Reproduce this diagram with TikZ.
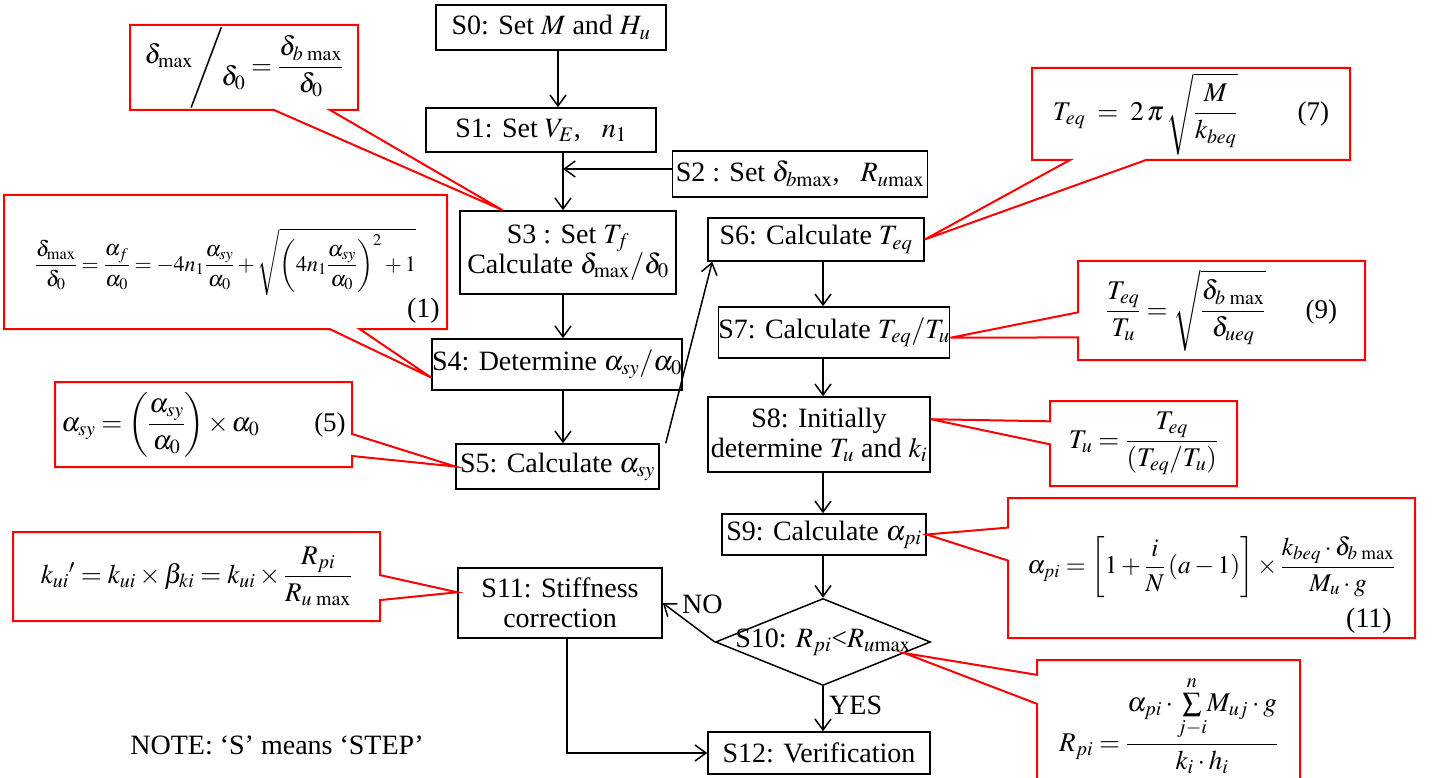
\documentclass[tikz,border=0pt]{standalone}
\usepackage{amsmath,amssymb}
\usepackage{mathptmx}
\usepackage{fontspec}
\setmainfont{Liberation Serif}
\usepackage{tikz}
\usetikzlibrary{arrows.meta,shapes.geometric,shapes.callouts,calc}

\tikzset{
  stepbox/.style={draw, line width=1.5pt, fill=white, align=center, inner sep=0pt, font=\fontsize{28}{30}\selectfont},
  decbox/.style={diamond, draw, line width=1.5pt, fill=white, inner sep=0pt, font=\fontsize{28}{30}\selectfont},
  eqbox/.style={rectangle callout, draw=red, line width=2pt, fill=white, inner sep=0pt, font=\fontsize{27}{30}\selectfont},
  eqno/.style={inner sep=0pt, font=\fontsize{28}{30}\selectfont},
  flow/.style={line width=1.5pt, -{Straight Barb[length=11pt,width=16pt]}},
  tag/.style={inner sep=0pt, font=\fontsize{28}{30}\selectfont},
}

\begin{document}
\begin{tikzpicture}[x=1pt,y=1pt,yscale=-1,xscale=1]
\useasboundingbox (0,0) rectangle (1433,778);

%Shape: Rectangle -- left column
\node[stepbox, minimum width=230, minimum height=45] (s0) at (551,27.5) {S0: Set $M$ and $H_u$};
\node[stepbox, minimum width=230, minimum height=44] (s1) at (541,130) {S1: Set $V_E$,~~~$n_1$};
\node[stepbox, minimum width=255, minimum height=46] (s2) at (800,174) {S2 : Set $\delta_{b\mathrm{max}}$,~~~$R_{u\mathrm{max}}$};
\node[stepbox, minimum width=216, minimum height=83] (s3) at (568,252.5) {S3 : Set $T_f$\\Calculate $\delta_{\mathrm{max}}/\delta_0$};
\node[stepbox, minimum width=248, minimum height=51] (s4) at (557,364.5) {S4: Determine $\alpha_{sy}/\alpha_0$};
\node[stepbox, minimum width=203, minimum height=45] (s5) at (557.5,466.5) {S5: Calculate $\alpha_{sy}$};
\node[stepbox, minimum width=204, minimum height=70] (s11) at (560,603) {S11: Stiffness\\correction};

%Shape: Rectangle -- right column
\node[stepbox, minimum width=216, minimum height=43] (s6) at (816,239.5) {S6: Calculate $T_{eq}$};
\node[stepbox, minimum width=226, minimum height=51] (s7) at (834,332.5) {S7: Calculate $T_{eq}/T_u$};
\node[stepbox, minimum width=222, minimum height=75] (s8) at (819,434.5) {S8: Initially\\determine $T_u$ and $k_i$};
\node[stepbox, minimum width=204, minimum height=41] (s9) at (824,534.5) {S9: Calculate $\alpha_{pi}$};
\node[decbox, minimum width=215, minimum height=87] (s10) at (823,642) {\makebox[0pt]{S10: $R_{pi}$<$R_{u\mathrm{max}}$}};
\node[stepbox, minimum width=222, minimum height=42] (s12) at (819,753) {S12: Verification};

%Straight Lines
\coordinate (j2) at (563,169);
\draw[flow] ([xshift=7]s0.south) -- ([xshift=7]s0.south |- s1.north);
\draw[flow] (s1.south -| j2) -- (s3.north -| j2);
\draw[flow] (s2.west |- j2) -- (j2);
\draw[flow] (s3.south -| j2) -- (s4.north -| j2);
\draw[flow] (s4.south -| j2) -- (s5.north -| j2);
\draw[flow] ([xshift=6]s5.north east) -- ([xshift=5]s6.south west);
\draw[flow] (s6.south -| s10) -- (s7.north -| s10);
\draw[flow] (s7.south -| s10) -- (s8.north -| s10);
\draw[flow] (s8.south -| s10) -- (s9.north -| s10);
\draw[flow] (s9.south -| s10) -- (s10.north);
\draw[flow] (s10.south) -- (s12.north -| s10);
\draw[flow] (s10.west) -- (s11.east);
\draw[flow] ([xshift=7]s11.south) |- (s12.west);

% Text Node
\node[tag, anchor=south west] (no) at (682,614) {NO};
\node[tag, anchor=west] (yes) at (829,705) {YES};
\node[tag] (note) at (277,745) {NOTE: `S' means `STEP'};

%Callout pointers
\coordinate (p0) at ($(s3.north west)!0.2!(s3.north east)$);
\coordinate (p1) at ($(s4.west)!0.5!(s4.south west)$);
\coordinate (p5) at (s5.west);
\coordinate (p7) at (s6.east);
\coordinate (p9) at ($(s7.east)!0.2!(s7.south east)$);
\coordinate (p8) at ($(s8.east)!0.4!(s8.north east)$);
\coordinate (p11) at (s9.east);
\coordinate (p10) at ($(s10.east)!0.25!(s10.south)$);
\coordinate (pk) at ($(s11.west)!0.3!(s11.north west)$);

%Callout
\node[eqbox, minimum width=228, minimum height=85, callout absolute pointer={(p0)}, callout pointer width=56] (c0) at (244,67.5)
  {$\raisebox{0.4em}{$\delta_{\max}$}\!\Bigg/\!\raisebox{-0.4em}{$\delta_0$}=\dfrac{\delta_{b\,\max}}{\delta_0}$};
\node[eqbox, minimum width=443, minimum height=134, callout absolute pointer={(p1)}, callout pointer width=30, font=\fontsize{22}{26}\selectfont] (c1) at (225.5,262)
  {\raisebox{9pt}{$\dfrac{\delta_{\max}}{\delta_0}=\dfrac{\alpha_f}{\alpha_0}=-4n_1\dfrac{\alpha_{sy}}{\alpha_0}+\sqrt{\left(4n_1\dfrac{\alpha_{sy}}{\alpha_0}\right)^{2}+1}$}};
\node[eqno, anchor=south east] (e1) at ($(c1.south east)+(-8,-6)$) {(1)};
\node[eqbox, minimum width=297, minimum height=85, callout absolute pointer={(p5)}, callout pointer width=22] (c5) at (203.5,424.5)
  {$\alpha_{sy}=\left(\dfrac{\alpha_{sy}}{\alpha_0}\right){\times}\,\alpha_0$\hspace{55pt}(5)};
\node[eqbox, minimum width=318, minimum height=92, callout absolute pointer={(p7)}, callout pointer width=76] (c7) at (1191,114)
  {$T_{eq}\;=\;2\,\pi\,\sqrt{\dfrac{M}{k_{beq}}}$\hspace{60pt}(7)};
\node[eqbox, minimum width=287, minimum height=99, callout absolute pointer={(p9)}, callout pointer width=25] (c9) at (1221.5,310.5)
  {$\dfrac{T_{eq}}{T_u}=\sqrt{\dfrac{\delta_{b\,\max}}{\delta_{ueq}}}$\hspace{40pt}(9)};
\node[eqbox, minimum width=187, minimum height=85, callout absolute pointer={(p8)}, callout pointer width=23] (c8) at (1143.5,443.5)
  {$T_u=\dfrac{T_{eq}}{\left(T_{eq}/T_u\right)}$};
\node[eqbox, minimum width=407, minimum height=140, callout absolute pointer={(p11)}, callout pointer width=33, font=\fontsize{25.5}{30}\selectfont] (c11) at (1211.5,568)
  {\raisebox{26pt}{$\alpha_{pi}=\left[1+\dfrac{i}{N}\left(a-1\right)\right]\times\dfrac{k_{beq}\cdot\delta_{b\,\max}}{M_u\cdot g}$}};
\node[eqno, anchor=south east] (e11) at ($(c11.south east)+(-24,-5)$) {(11)};
\node[eqbox, minimum width=263, minimum height=130, callout absolute pointer={(p10)}, callout pointer width=29] (c10) at (1168.5,725)
  {\raisebox{10pt}{$R_{pi}=\dfrac{\alpha_{pi}\cdot{\textstyle\sum\limits_{j-i}^{n}}M_{uj}\cdot g}{k_i\cdot h_i}$}};
\node[eqbox, minimum width=367, minimum height=89, callout absolute pointer={(pk)}, callout pointer width=25] (ck) at (196.5,576.5)
  {$k_{ui}{}'=k_{ui}\times\beta_{ki}=k_{ui}\times\dfrac{R_{pi}}{R_{u\,\max}}$};

\end{tikzpicture}
\end{document}
